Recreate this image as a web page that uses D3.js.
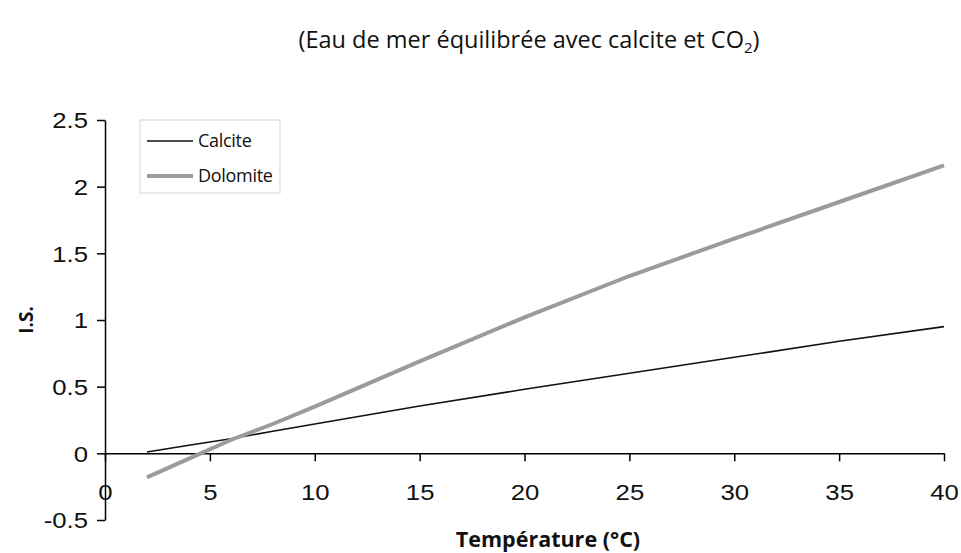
<!DOCTYPE html>
<html>
<head>
<meta charset="utf-8">
<script src="https://cdn.jsdelivr.net/npm/d3@7"></script>
<style>
  body { margin: 0; background: #fff; }
  .tick text { font-family: 'Liberation Sans', Arial, sans-serif; font-size: 22px; fill: #111; }
  .domain, .tick line { stroke: #000; stroke-width: 1.5px; }
</style>
</head>
<body>
<div id="container"></div>
<script>
const w = 961,
  h = 553;

// data
const temperature = [2, 4, 6, 8, 10, 15, 20, 25, 30, 35, 40];
const calcite = [0.01, 0.06, 0.11, 0.165, 0.22, 0.355, 0.48, 0.6, 0.72, 0.84, 0.95];
const dolomite = [-0.18, -0.04, 0.1, 0.22, 0.35, 0.69, 1.02, 1.33, 1.61, 1.885, 2.16];
const xTicks = [0, 5, 10, 15, 20, 25, 30, 35, 40];
const yTicks = [-0.5, 0, 0.5, 1, 1.5, 2, 2.5];

// the tick labels of the original are a bit wider than Arial
const stretch = 1.17;

const svg = d3.select('#container').append('svg').attr('width', w).attr('height', h);

const xScale = d3.scaleLinear().domain([0, 40]).range([105, 944]);
const yScale = d3.scaleLinear().domain([-0.5, 2.5]).range([520, 120]);

// title
svg
  .append('text')
  .attr('x', 529)
  .attr('y', 48)
  .attr('text-anchor', 'middle')
  .style('font-family', "'Open Sans', sans-serif")
  .style('font-size', '23.5px')
  .attr('fill', '#111')
  .html('(Eau de mer équilibrée avec calcite et CO<tspan baseline-shift="-30%" font-size="15px">2</tspan>)');

// y axis
const yAxis = d3.axisLeft(yScale).tickValues(yTicks).tickFormat((d) => String(d)).tickSize(8).tickSizeOuter(0);
svg
  .append('g')
  .attr('transform', 'translate(' + xScale(0) + ', 0)')
  .call(yAxis)
  .call((g) =>
    g
      .selectAll('.tick text')
      .attr('x', -17 / stretch)
      .attr('dy', '0.36em')
      .attr('transform', 'scale(' + stretch + ',1)')
  );

// x axis sits on y = 0
const xAxis = d3.axisBottom(xScale).tickValues(xTicks).tickFormat((d) => String(d)).tickSize(8).tickSizeOuter(0);
svg
  .append('g')
  .attr('transform', 'translate(0, ' + yScale(0) + ')')
  .call(xAxis)
  .call((g) =>
    g
      .selectAll('.tick text')
      .attr('y', 31)
      .attr('dy', null)
      .attr('dominant-baseline', 'hanging')
      .attr('transform', 'scale(' + stretch + ',1)')
  );

// axis titles
svg
  .append('text')
  .text('I.S.')
  .attr('text-anchor', 'middle')
  .attr('transform', 'rotate(-90)')
  .attr('x', -yScale(1))
  .attr('y', 33)
  .style('font-family', "'Open Sans', sans-serif")
  .style('font-weight', 'bold')
  .style('font-size', '19px')
  .attr('fill', '#111');

svg
  .append('text')
  .text('Température (°C)')
  .attr('text-anchor', 'middle')
  .attr('x', 548)
  .attr('y', 547)
  .style('font-family', "'Open Sans', sans-serif")
  .style('font-weight', 'bold')
  .style('font-size', '21.5px')
  .attr('fill', '#111');

// lines
const series = [
  { name: 'Calcite', values: calcite, color: '#111', width: 1.6 },
  { name: 'Dolomite', values: dolomite, color: '#9a9b9c', width: 4 }
];

const line = d3
  .line()
  .x((d, i) => xScale(temperature[i]))
  .y((d) => yScale(d));

svg
  .selectAll('path.series')
  .data(series)
  .enter()
  .append('path')
  .attr('class', 'series')
  .attr('fill', 'none')
  .attr('stroke', (d) => d.color)
  .attr('stroke-width', (d) => d.width)
  .attr('d', (d) => line(d.values));

// legend
const legend = svg.append('g').attr('transform', 'translate(140, 120)');
legend
  .append('rect')
  .attr('width', 140)
  .attr('height', 73)
  .attr('fill', '#fff')
  .attr('stroke', '#c8d8e4')
  .attr('stroke-width', 1);

const item = legend
  .selectAll('g.item')
  .data(series)
  .enter()
  .append('g')
  .attr('class', 'item')
  .attr('transform', (d, i) => 'translate(0, ' + (21 + i * 35) + ')');

item
  .append('line')
  .attr('x1', 7)
  .attr('x2', 53)
  .attr('stroke', (d) => d.color)
  .attr('stroke-width', (d) => d.width);

item
  .append('text')
  .text((d) => d.name)
  .attr('x', 58)
  .attr('dy', '0.35em')
  .style('font-family', "'Open Sans', sans-serif")
  .style('font-size', '18px')
  .style('letter-spacing', '-0.3px')
  .attr('fill', '#111');
</script>
</body>
</html>
